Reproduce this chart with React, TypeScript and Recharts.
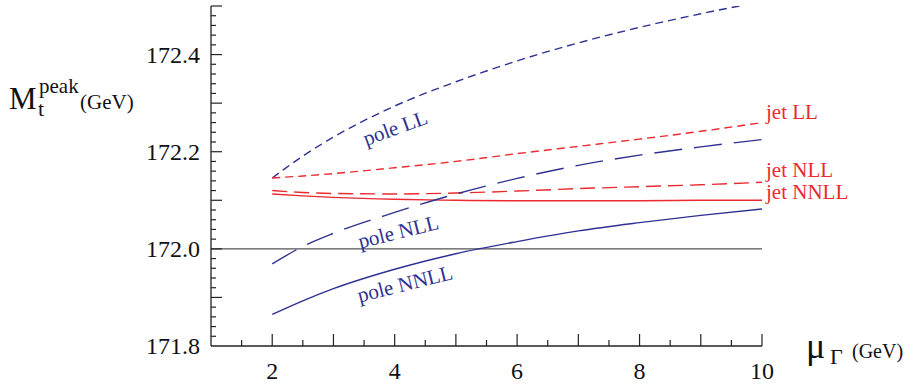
import React from "react";
import { LineChart, Line, XAxis, YAxis, ReferenceLine, ReferenceDot } from "recharts";

// ---- data ----
const muValues = [2, 2.5, 3, 4, 5, 6, 7, 8, 9, 10];
const poleLL = [172.146, 172.191, 172.23, 172.294, 172.344, 172.387, 172.424, 172.456, 172.484, 172.509];
const jetLL = [172.146, 172.15, 172.155, 172.167, 172.18, 172.196, 172.211, 172.226, 172.242, 172.26];
const jetNLL = [172.12, 172.116, 172.114, 172.113, 172.115, 172.119, 172.124, 172.128, 172.132, 172.137];
const jetNNLL = [172.113, 172.109, 172.106, 172.102, 172.1, 172.099, 172.099, 172.099, 172.1, 172.1];
const poleNLL = [171.969, 172.005, 172.032, 172.075, 172.113, 172.145, 172.172, 172.193, 172.21, 172.225];
const poleNNLL = [171.865, 171.893, 171.918, 171.958, 171.99, 172.015, 172.037, 172.054, 172.069, 172.082];

const xTicks = [1, 1.5, 2, 2.5, 3, 3.5, 4, 4.5, 5, 5.5, 6, 6.5, 7, 7.5, 8, 8.5, 9, 9.5, 10];
const xTickLabels = [2, 4, 6, 8, 10];
const yTickLabels = [171.8, 172.0, 172.2, 172.4];
const yDomain: [number, number] = [171.8, 172.5];
const yTicks = Array.from({ length: 36 }, (_, i) => Math.round((171.8 + i * 0.02) * 1000) / 1000);
const referenceValue = 172.0;

const data = muValues.map((mu, i) => ({
  mu,
  poleLL: poleLL[i],
  jetLL: jetLL[i],
  jetNLL: jetNLL[i],
  jetNNLL: jetNNLL[i],
  poleNLL: poleNLL[i],
  poleNNLL: poleNNLL[i],
}));

const BLUE = "#2e3192";
const RED = "#ea2a30";
const AXIS = "#222";
const SERIF = "Liberation Serif";

const near = (a: number, b: number) => Math.abs(a - b) < 1e-6;

const XTick = (props: any) => {
  const { x, y, payload } = props;
  const v = payload.value;
  const major = Number.isInteger(v);
  const labeled = xTickLabels.some((l) => near(l, v));
  return (
    <g>
      {v > 1 && <line x1={x} y1={y} x2={x} y2={y - (major ? 12 : 6)} stroke={AXIS} strokeWidth={1.2} />}
      {labeled && (
        <text x={x} y={y + 33} textAnchor="middle" fontFamily={SERIF} fontSize={24} fill="#111">
          {String(v)}
        </text>
      )}
    </g>
  );
};

const YTick = (props: any) => {
  const { x, y, payload } = props;
  const v = payload.value;
  const major = near(Math.round(v * 10) / 10, v);
  const labeled = yTickLabels.some((l) => near(l, v));
  return (
    <g>
      {v > 171.8 && <line x1={x} y1={y} x2={x + (major ? 11 : 5)} y2={y} stroke={AXIS} strokeWidth={1.2} />}
      {labeled && (
        <text x={x - 11} y={y + 8} textAnchor="end" fontFamily={SERIF} fontSize={24} fill="#111">
          {v.toFixed(1)}
        </text>
      )}
    </g>
  );
};

const curveLabel = (text: string, color: string, rotate: number, anchor: string = "middle", dx: number = 0) => (props: any) => {
  const vb = props.viewBox || {};
  const cx = (vb.x || 0) + (vb.width || 0) / 2 + dx;
  const cy = (vb.y || 0) + (vb.height || 0) / 2;
  return (
    <text
      x={cx}
      y={anchor === "middle" ? cy + 7 : cy}
      textAnchor={anchor}
      fontFamily={SERIF}
      fontSize={21}
      fill={color}
      transform={rotate ? `rotate(${rotate} ${cx} ${cy})` : undefined}
    >
      {text}
    </text>
  );
};

export default function App() {
  return (
    <div style={{ position: "absolute", left: 0, top: 0, width: 920, height: 384, background: "#fff" }}>
      <LineChart width={920} height={384} data={data} margin={{ top: 6, right: 158, bottom: 0, left: 0 }}>
        <XAxis
          dataKey="mu"
          type="number"
          domain={[1, 10]}
          ticks={xTicks}
          interval={0}
          height={38}
          tickSize={0}
          tickMargin={0}
          tickLine={false}
          axisLine={{ stroke: AXIS, strokeWidth: 1.3 }}
          tick={<XTick />}
          allowDataOverflow
        />
        <YAxis
          type="number"
          domain={yDomain}
          ticks={yTicks}
          interval={0}
          width={211}
          tickSize={0}
          tickMargin={0}
          tickLine={false}
          axisLine={{ stroke: AXIS, strokeWidth: 1.3 }}
          tick={<YTick />}
          allowDataOverflow
        />
        <ReferenceLine y={referenceValue} stroke="#555" strokeWidth={1.3} />
        <Line dataKey="poleLL" type="monotone" stroke={BLUE} strokeWidth={1.4} strokeDasharray="8 5" dot={false} isAnimationActive={false} />
        <Line dataKey="jetLL" type="monotone" stroke={RED} strokeWidth={1.4} strokeDasharray="8 5" dot={false} isAnimationActive={false} />
        <Line dataKey="jetNLL" type="monotone" stroke={RED} strokeWidth={1.4} strokeDasharray="15 7" dot={false} isAnimationActive={false} />
        <Line dataKey="jetNNLL" type="monotone" stroke={RED} strokeWidth={1.4} dot={false} isAnimationActive={false} />
        <Line dataKey="poleNLL" type="monotone" stroke={BLUE} strokeWidth={1.4} strokeDasharray="28 12" dot={false} isAnimationActive={false} />
        <Line dataKey="poleNNLL" type="monotone" stroke={BLUE} strokeWidth={1.4} dot={false} isAnimationActive={false} />
        <ReferenceDot x={4.01} y={172.249} r={0} fill="none" stroke="none" label={curveLabel("pole LL", BLUE, -20)} />
        <ReferenceDot x={4.06} y={172.035} r={0} fill="none" stroke="none" label={curveLabel("pole NLL", BLUE, -14)} />
        <ReferenceDot x={4.17} y={171.928} r={0} fill="none" stroke="none" label={curveLabel("pole NNLL", BLUE, -14)} />
        <ReferenceDot x={10} y={172.268} r={0} fill="none" stroke="none" label={curveLabel("jet LL", RED, 0, "start", 4)} />
        <ReferenceDot x={10} y={172.148} r={0} fill="none" stroke="none" label={curveLabel("jet NLL", RED, 0, "start", 4)} />
        <ReferenceDot x={10} y={172.103} r={0} fill="none" stroke="none" label={curveLabel("jet NNLL", RED, 0, "start", 4)} />
      </LineChart>
      <svg width={920} height={384} style={{ position: "absolute", left: 0, top: 0, pointerEvents: "none" }}>
        <text x={9} y={109} fontFamily={SERIF} fontSize={31} fill="#111">M</text>
        <text x={38} y={116} fontFamily={SERIF} fontSize={22} fill="#111">t</text>
        <text x={39} y={93} fontFamily={SERIF} fontSize={21} fill="#111">peak</text>
        <text x={80} y={109} fontFamily={SERIF} fontSize={21} fill="#111">(GeV)</text>
        <text x={806} y={358} fontFamily={SERIF} fontSize={36} fill="#111">μ</text>
        <text x={830} y={364} fontFamily={SERIF} fontSize={22} fill="#111">Γ</text>
        <text x={852} y={358} fontFamily={SERIF} fontSize={20} fill="#111">(GeV)</text>
      </svg>
    </div>
  );
}
